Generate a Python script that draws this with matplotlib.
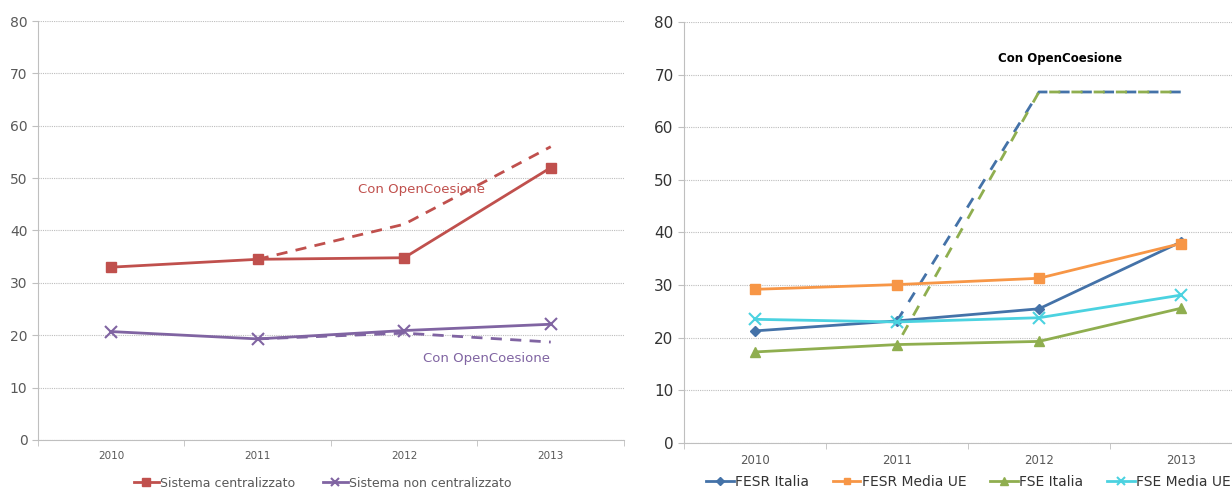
import numpy as np
import matplotlib.pyplot as plt

anni = ["2010", "2011", "2012", "2013"]

# grafico di sinistra
centralizzato = [33.0, 34.5, 34.8, 52.0]
centralizzato_oc = [np.nan, 34.5, 41.2, 56.0]
non_centralizzato = [20.7, 19.3, 20.9, 22.1]
non_centralizzato_oc = [np.nan, 19.3, 20.4, 18.7]

# grafico di destra
fesr_italia = [21.3, 23.2, 25.5, 38.2]
fesr_ue = [29.2, 30.1, 31.3, 37.9]
fse_italia = [17.3, 18.7, 19.3, 25.6]
fse_ue = [23.5, 23.0, 23.8, 28.1]
fesr_italia_oc = [np.nan, 23.2, 66.7, 66.7]
fse_italia_oc = [np.nan, 18.7, 66.7, 66.7]

rosso = "#C0504D"
viola = "#8064A2"
blu = "#4472A8"
arancio = "#F79646"
verde = "#8FAE4F"
ciano = "#4BD2E0"
grigio = "#595959"

fig = plt.figure(figsize=(12.32, 4.91), dpi=100)
ax1 = fig.add_axes([0.0308, 0.1039, 0.4757, 0.8533])
ax2 = fig.add_axes([0.5552, 0.0978, 0.4610, 0.8574])

x = np.arange(len(anni))


def stile(ax, ysize, xsize):
    ax.set_xlim(-0.5, 3.5)
    ax.set_ylim(0, 80)
    ax.set_yticks(range(0, 81, 10))
    ax.set_xticks(x)
    ax.set_xticklabels(anni)
    ax.set_xticks([-0.5, 0.5, 1.5, 2.5, 3.5], minor=True)
    ax.tick_params(axis="x", which="major", length=0, pad=8, labelsize=xsize, colors=grigio)
    ax.tick_params(axis="x", which="minor", length=4, color="#BFBFBF")
    ax.tick_params(axis="y", length=4, color="#BFBFBF", labelsize=ysize, labelcolor=grigio)
    for s in ["top", "right"]:
        ax.spines[s].set_visible(False)
    ax.spines["left"].set_color("#BFBFBF")
    ax.spines["bottom"].set_color("#BFBFBF")
    ax.grid(axis="y", linestyle=(0, (1, 1)), color="#BDBDBD", linewidth=0.8)
    ax.set_axisbelow(True)
    ax.patch.set_alpha(0)


stile(ax1, 10, 7.5)
stile(ax2, 11, 8.5)
for lab in ax2.get_yticklabels():
    lab.set_color("#333333")

# sinistra
ax1.plot(x, centralizzato_oc, color=rosso, lw=2, ls=(0, (4, 3)))
ax1.plot(x, non_centralizzato_oc, color=viola, lw=2, ls=(0, (4, 3)))
ax1.plot(x, centralizzato, color=rosso, lw=2, marker="s", ms=7, label="Sistema centralizzato")
ax1.plot(x, non_centralizzato, color=viola, lw=2, marker="x", ms=8, mew=1.5, label="Sistema non centralizzato")
ax1.text(2.12, 47.9, "Con OpenCoesione", color=rosso, fontsize=9.5, ha="center", va="center")
ax1.text(2.56, 15.6, "Con OpenCoesione", color=viola, fontsize=9.5, ha="center", va="center")

# destra
ax2.plot(x, fesr_italia_oc, color=blu, lw=2, ls=(0, (4, 4)))
ax2.plot(x, fse_italia_oc, color=verde, lw=2, ls=(4, (4, 4)))
ax2.plot(x, fesr_italia, color=blu, lw=2, marker="D", ms=5, label="FESR Italia")
ax2.plot(x, fesr_ue, color=arancio, lw=2, marker="s", ms=6.5, label="FESR Media UE")
ax2.plot(x, fse_italia, color=verde, lw=2, marker="^", ms=7, label="FSE Italia")
ax2.plot(x, fse_ue, color=ciano, lw=2, marker="x", ms=8, mew=1.5, label="FSE Media UE")
ax2.text(2.15, 73.0, "Con OpenCoesione", color="black", fontsize=8.5, fontweight="bold", ha="center", va="center")

h1, l1 = ax1.get_legend_handles_labels()
fig.legend(h1, l1, loc="center", bbox_to_anchor=(0.262, 0.016), ncol=2, frameon=False,
           fontsize=9, handlelength=2.0, handletextpad=0.1, columnspacing=2.2,
           labelcolor=grigio, markerscale=0.75)
h2, l2 = ax2.get_legend_handles_labels()
fig.legend(h2, l2, loc="center", bbox_to_anchor=(0.786, 0.018), ncol=4, frameon=False,
           fontsize=10, handlelength=2.0, handletextpad=0.1, columnspacing=1.7,
           labelcolor="#333333", markerscale=0.75)

fig.savefig("out.png", dpi=100)
